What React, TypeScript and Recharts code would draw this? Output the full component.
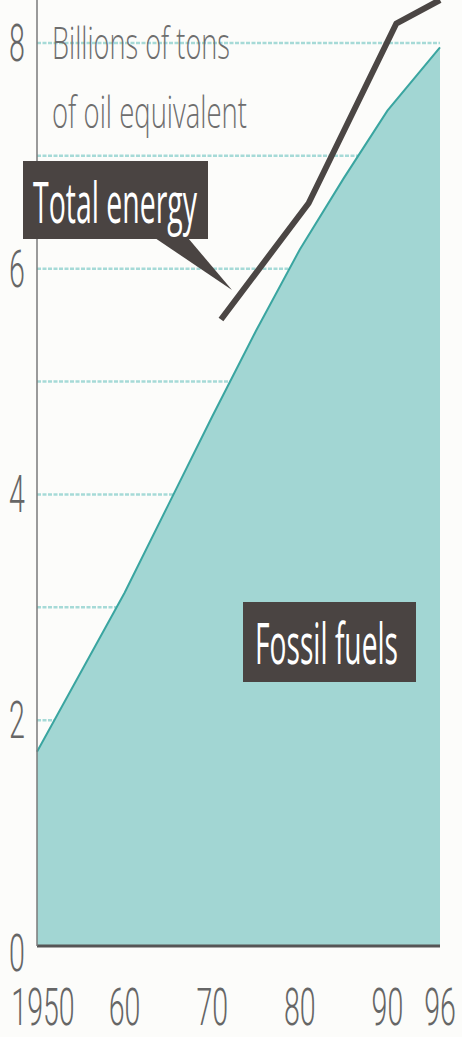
import React from 'react';
import { ComposedChart, Area, Line, XAxis, YAxis, CartesianGrid } from 'recharts';

// fossil fuels, billions of tons of oil equivalent
const fossilYears = [1950, 1960, 1965, 1970, 1975, 1980, 1985, 1990, 1996];
const fossilFuels = [1.72, 3.13, 3.91, 4.69, 5.45, 6.17, 6.8, 7.4, 7.96];

// total energy (drawn only from ~1970)
const energyYears = [1971, 1981, 1991, 1996];
const totalEnergy = [5.55, 6.58, 8.17, 8.38];

const xTicks = [1950, 1960, 1970, 1980, 1990, 1996];
const xTickLabels = ['1950', '60', '70', '80', '90', '96'];
const yTicks = [0, 2, 4, 6, 8];
const gridValues = [1, 2, 3, 4, 5, 6, 7, 8];

const allYears = Array.from(new Set([...fossilYears, ...energyYears])).sort((a, b) => a - b);
const data = allYears.map(year => {
  const fi = fossilYears.indexOf(year);
  const ei = energyYears.indexOf(year);
  return {
    year,
    fossil: fi >= 0 ? fossilFuels[fi] : null,
    total: ei >= 0 ? totalEnergy[ei] : null,
  };
});

const numFont = 'Roboto, "Liberation Sans", sans-serif';
const textFont = '"Open Sans", "DejaVu Sans", sans-serif';
const grey = '#666666';

// condensed number: scale horizontally around its anchor
const Num = ({ x, y, label }: { x: number; y: number; label: string }) => (
  <g transform={`translate(${x},${y}) scale(0.56,1)`}>
    <text x={0} y={0} textAnchor="middle" fill={grey} fontFamily={numFont} fontSize={51} fontWeight={300}>
      {label}
    </text>
  </g>
);

// condensed annotation text, squeezed to a given on-screen width
const Squeezed = ({ x, y, w, size, weight, fill, children }: any) => (
  <g transform={`translate(${x},${y}) scale(0.5,1)`}>
    <text x={0} y={0} fill={fill} fontFamily={textFont} fontSize={size} fontWeight={weight}
      textLength={w * 2} lengthAdjust="spacingAndGlyphs">{children}</text>
  </g>
);

const XTick = (props: any) => {
  const { x, y, payload, index } = props;
  const label = xTickLabels[xTicks.indexOf(payload.value)] ?? String(payload.value);
  return <Num x={x + (index === 0 ? 6 : 0)} y={y + 79} label={label} />;
};

const YTick = (props: any) => {
  const { x, y, payload } = props;
  return <Num x={x - 20} y={y + (payload.value === 0 ? 25 : 18)} label={String(payload.value)} />;
};

export default function App() {
  return (
    <div style={{ position: 'relative', width: 462, height: 1037, background: '#fcfcfa' }}>
      <style>{'body{margin:0;background:#fcfcfa}'}</style>
      <ComposedChart width={462} height={1037} data={data} margin={{ top: 0, right: 22, bottom: 0, left: 0 }}>
        <CartesianGrid
          yAxisId="left"
          vertical={false}
          horizontalValues={gridValues}
          stroke="#a6dad7"
          strokeWidth={2.5}
          strokeDasharray="4 1.5"
        />
        <XAxis
          dataKey="year"
          type="number"
          domain={[1950, 1996]}
          ticks={xTicks}
          tick={<XTick />}
          tickLine={false}
          tickSize={0}
          tickMargin={0}
          height={91}
          axisLine={{ stroke: '#555', strokeWidth: 3 }}
          interval={0}
        />
        <YAxis
          yAxisId="left"
          type="number"
          domain={[0, 8.38]}
          ticks={yTicks}
          tick={<YTick />}
          tickLine={false}
          tickSize={0}
          tickMargin={0}
          width={37}
          axisLine={{ stroke: '#7a7a7a', strokeWidth: 1.5 }}
          interval={0}
        />
        <YAxis
          yAxisId="right"
          orientation="right"
          domain={[0, 8.38]}
          tick={false}
          tickLine={false}
          width={0}
          axisLine={{ stroke: '#777', strokeWidth: 1.5 }}
        />
        <Area
          yAxisId="left"
          type="linear"
          dataKey="fossil"
          connectNulls
          fill="#a2d6d3"
          fillOpacity={1}
          stroke="#3aa5a0"
          strokeWidth={2}
          dot={false}
          activeDot={false}
          isAnimationActive={false}
        />
        <Line
          yAxisId="left"
          type="linear"
          dataKey="total"
          connectNulls
          stroke="#4b4644"
          strokeWidth={6}
          strokeLinejoin="round"
          dot={false}
          activeDot={false}
          isAnimationActive={false}
        />
      </ComposedChart>
      <svg
        width={462}
        height={1037}
        style={{ position: 'absolute', left: 0, top: 0, pointerEvents: 'none' }}
      >
        <Squeezed x={52} y={59} w={178} size={45} weight={300} fill="#6e6e6e">Billions of tons</Squeezed>
        <Squeezed x={52} y={128} w={195} size={45} weight={300} fill="#6e6e6e">of oil equivalent</Squeezed>

        <rect x={23} y={161} width={185} height={78} fill="#4a4442" />
        <polygon points="155,238 188,238 232,290" fill="#4a4442" />
        <Squeezed x={33} y={223} w={164} size={56} weight={500} fill="#ffffff">Total energy</Squeezed>

        <rect x={243} y={602} width={173} height={80} fill="#4a4442" />
        <Squeezed x={255} y={664} w={143} size={56} weight={500} fill="#ffffff">Fossil fuels</Squeezed>
      </svg>
    </div>
  );
}
